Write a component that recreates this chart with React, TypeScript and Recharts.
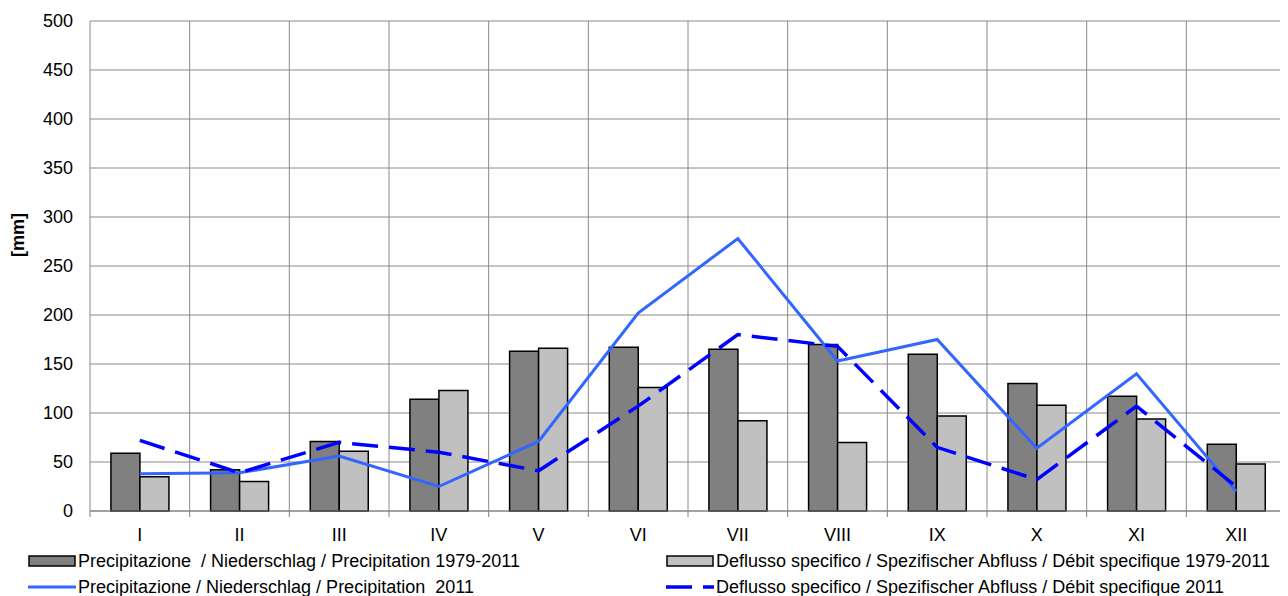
import React from 'react';
import { ComposedChart, Bar, Line, XAxis, YAxis, CartesianGrid, Legend } from 'recharts';

const months = ['I', 'II', 'III', 'IV', 'V', 'VI', 'VII', 'VIII', 'IX', 'X', 'XI', 'XII'];
const precipMean = [59, 42, 71, 114, 163, 167, 165, 170, 160, 130, 117, 68];
const runoffMean = [35, 30, 61, 123, 166, 126, 92, 70, 97, 108, 94, 48];
const precip2011 = [38, 39, 56, 25, 71, 202, 278, 153, 175, 64, 140, 20];
const runoff2011 = [72, 39, 70, 60, 41, 107, 180, 168, 65, 32, 107, 25];
const yTicks = [0, 50, 100, 150, 200, 250, 300, 350, 400, 450, 500];

const names = {
  pm: 'Precipitazione  / Niederschlag / Precipitation 1979-2011',
  rm: 'Deflusso specifico / Spezifischer Abfluss / Débit specifique 1979-2011',
  p11: 'Precipitazione / Niederschlag / Precipitation  2011',
  r11: 'Deflusso specifico / Spezifischer Abfluss / Débit specifique 2011',
};
const legendOrder = ['pm', 'rm', 'p11', 'r11'];

const data = months.map((m, i) => ({
  month: m,
  pm: precipMean[i],
  rm: runoffMean[i],
  p11: precip2011[i],
  r11: runoff2011[i],
}));

const W = 1280;
const H = 588;
const M = { top: 13, right: 2, left: 0, bottom: 0 };
const Y_W = 82;
const PLOT_W = W - Y_W - M.right;
const BAND = PLOT_W / months.length;
const FONT = '"Liberation Sans", Arial, sans-serif';
const FS = 18;

const DARK = '#808080';
const LIGHT = '#c0c0c0';
const BLUE = '#3366ff';
const DBLUE = '#0000ff';
const DASH = '26 11';

const XTick = (props: any) => {
  const { x, y, payload, index } = props;
  const last = index === months.length - 1;
  return (
    <g>
      <line x1={x - BAND / 2} x2={x - BAND / 2} y1={y} y2={y + 6} stroke="#808080" strokeWidth={1} />
      {last && <line x1={x + BAND / 2} x2={x + BAND / 2} y1={y} y2={y + 6} stroke="#808080" strokeWidth={1} />}
      <text x={x} y={y + 29.5} textAnchor="middle" fontFamily={FONT} fontSize={FS} fill="#000">
        {payload.value}
      </text>
    </g>
  );
};

const YLabel = (props: any) => {
  const vb = props.viewBox || { x: 0, y: 0, width: 0, height: 0 };
  const cx = vb.x + 16;
  const cy = vb.y + vb.height / 2 - 31;
  return (
    <text
      x={cx}
      y={cy}
      transform={`rotate(-90 ${cx} ${cy})`}
      textAnchor="middle"
      fontFamily={FONT}
      fontSize={FS}
      fontWeight="bold"
      fill="#000"
    >
      [mm]
    </text>
  );
};

const legendStyle: Record<string, any> = {
  pm: { kind: 'bar', fill: DARK },
  rm: { kind: 'bar', fill: LIGHT },
  p11: { kind: 'line', stroke: BLUE, dash: undefined, w: 3 },
  r11: { kind: 'line', stroke: DBLUE, dash: DASH, w: 3.5 },
};

const renderLegend = (props: any) => {
  const items = [...(props.payload || [])].sort(
    (a: any, b: any) => legendOrder.indexOf(a.dataKey) - legendOrder.indexOf(b.dataKey)
  );
  return (
    <div style={{ position: 'relative', width: W, height: 50, fontFamily: FONT, fontSize: FS, color: '#000' }}>
      {items.map((p: any, i: number) => {
        const col = i % 2;
        const row = Math.floor(i / 2);
        const st = legendStyle[p.dataKey] || {};
        const left = col ? 658 : 20;
        const top = row * 26;
        return (
          <div
            key={i}
            style={{ position: 'absolute', left, top, height: 20, display: 'flex', alignItems: 'center', whiteSpace: 'pre' }}
          >
            <svg width={49} height={20} style={{ marginRight: 1, display: 'block' }}>
              {st.kind === 'bar' ? (
                <rect x={1} y={5} width={46} height={10} fill={st.fill} stroke="#000" strokeWidth={1.5} />
              ) : (
                <line x1={0} x2={48} y1={10} y2={10} stroke={st.stroke} strokeWidth={st.w} strokeDasharray={st.dash} />
              )}
            </svg>
            <span>{p.value}</span>
          </div>
        );
      })}
    </div>
  );
};

export default function App() {
  return (
    <ComposedChart width={W} height={H} data={data} margin={M} barCategoryGap="21%" barGap={0}>
      <CartesianGrid
        stroke="#8a8a8a"
        strokeWidth={1}
        verticalCoordinatesGenerator={({ offset }: any) => {
          const pts = months.map((_, i) => offset.left + (i * offset.width) / months.length);
          pts.push(offset.left + offset.width);
          return pts;
        }}
      />
      <XAxis
        dataKey="month"
        height={30}
        tickLine={false}
        tickSize={0}
        tickMargin={0}
        axisLine={{ stroke: '#808080', strokeWidth: 1 }}
        tick={<XTick />}
        interval={0}
      />
      <YAxis
        width={Y_W}
        domain={[0, 500]}
        ticks={yTicks}
        interval={0}
        axisLine={false}
        tickLine={false}
        tickSize={0}
        tickMargin={17}
        tick={{ fontFamily: FONT, fontSize: FS, fill: '#000' }}
        label={<YLabel />}
      />
      <Legend
        verticalAlign="bottom"
        height={55}
        content={renderLegend}
        wrapperStyle={{ top: 543, left: 0, width: W }}
      />
      <Bar dataKey="pm" name={names.pm} fill={DARK} stroke="#000" strokeWidth={1.5} isAnimationActive={false} />
      <Bar dataKey="rm" name={names.rm} fill={LIGHT} stroke="#000" strokeWidth={1.5} isAnimationActive={false} />
      <Line dataKey="p11" name={names.p11} stroke={BLUE} strokeWidth={3} dot={false} activeDot={false} type="linear" isAnimationActive={false} />
      <Line dataKey="r11" name={names.r11} stroke={DBLUE} strokeWidth={3.5} strokeDasharray={DASH} dot={false} activeDot={false} type="linear" isAnimationActive={false} />
    </ComposedChart>
  );
}
